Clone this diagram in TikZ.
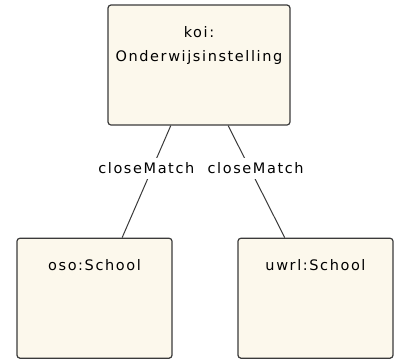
\documentclass[tikz,border=0pt]{standalone}
\usepackage{fontspec}
\setmainfont{DejaVu Sans}[LetterSpace=11]
\usetikzlibrary{positioning,calc}
\definecolor{classfill}{HTML}{FCF8EC}
\definecolor{classline}{HTML}{3A3A3A}

\begin{document}
\begin{tikzpicture}[%
        x=1pt, y=1pt,
        every node/.style={inner sep=0pt, font=\fontsize{14.5}{24}\selectfont},
        classbox/.style={rectangle, rounded corners=3pt, draw=classline, line width=1.2pt, fill=classfill, minimum height=120pt},
        relname/.style={fill=white, text=black, inner xsep=3pt, inner ysep=5pt},
        node distance=112pt
      ]
      \useasboundingbox (0,0) rectangle (397,-360);
      \node [classbox] (koi) [minimum width=182pt] at (199,-65) {};
      \node (koititle) [align=center, below=22pt of koi.north] {koi:\\Onderwijsinstelling};
      \node [classbox] (oso) [minimum width=155pt, below=of koi, xshift=-104.5pt] {};
      \node (osotitle) [below=22pt of oso.north] {oso:School};
      \node [classbox] (uwrl) [minimum width=155pt, below=of koi, xshift=116.5pt] {};
      \node (uwrltitle) [below=22pt of uwrl.north] {uwrl:School};
      \draw [classline, line width=1pt] ($(koi.south west)!0.346!(koi.south east)$) -- node [relname, pos=0.38, xshift=-6pt] (osomatch) {closeMatch} ($(oso.north west)!0.677!(oso.north east)$);
      \draw [classline, line width=1pt] ($(koi.south west)!0.659!(koi.south east)$) -- node [relname, pos=0.38, xshift=6pt] (uwrlmatch) {closeMatch} ($(uwrl.north west)!0.303!(uwrl.north east)$);
    \end{tikzpicture}
\end{document}
